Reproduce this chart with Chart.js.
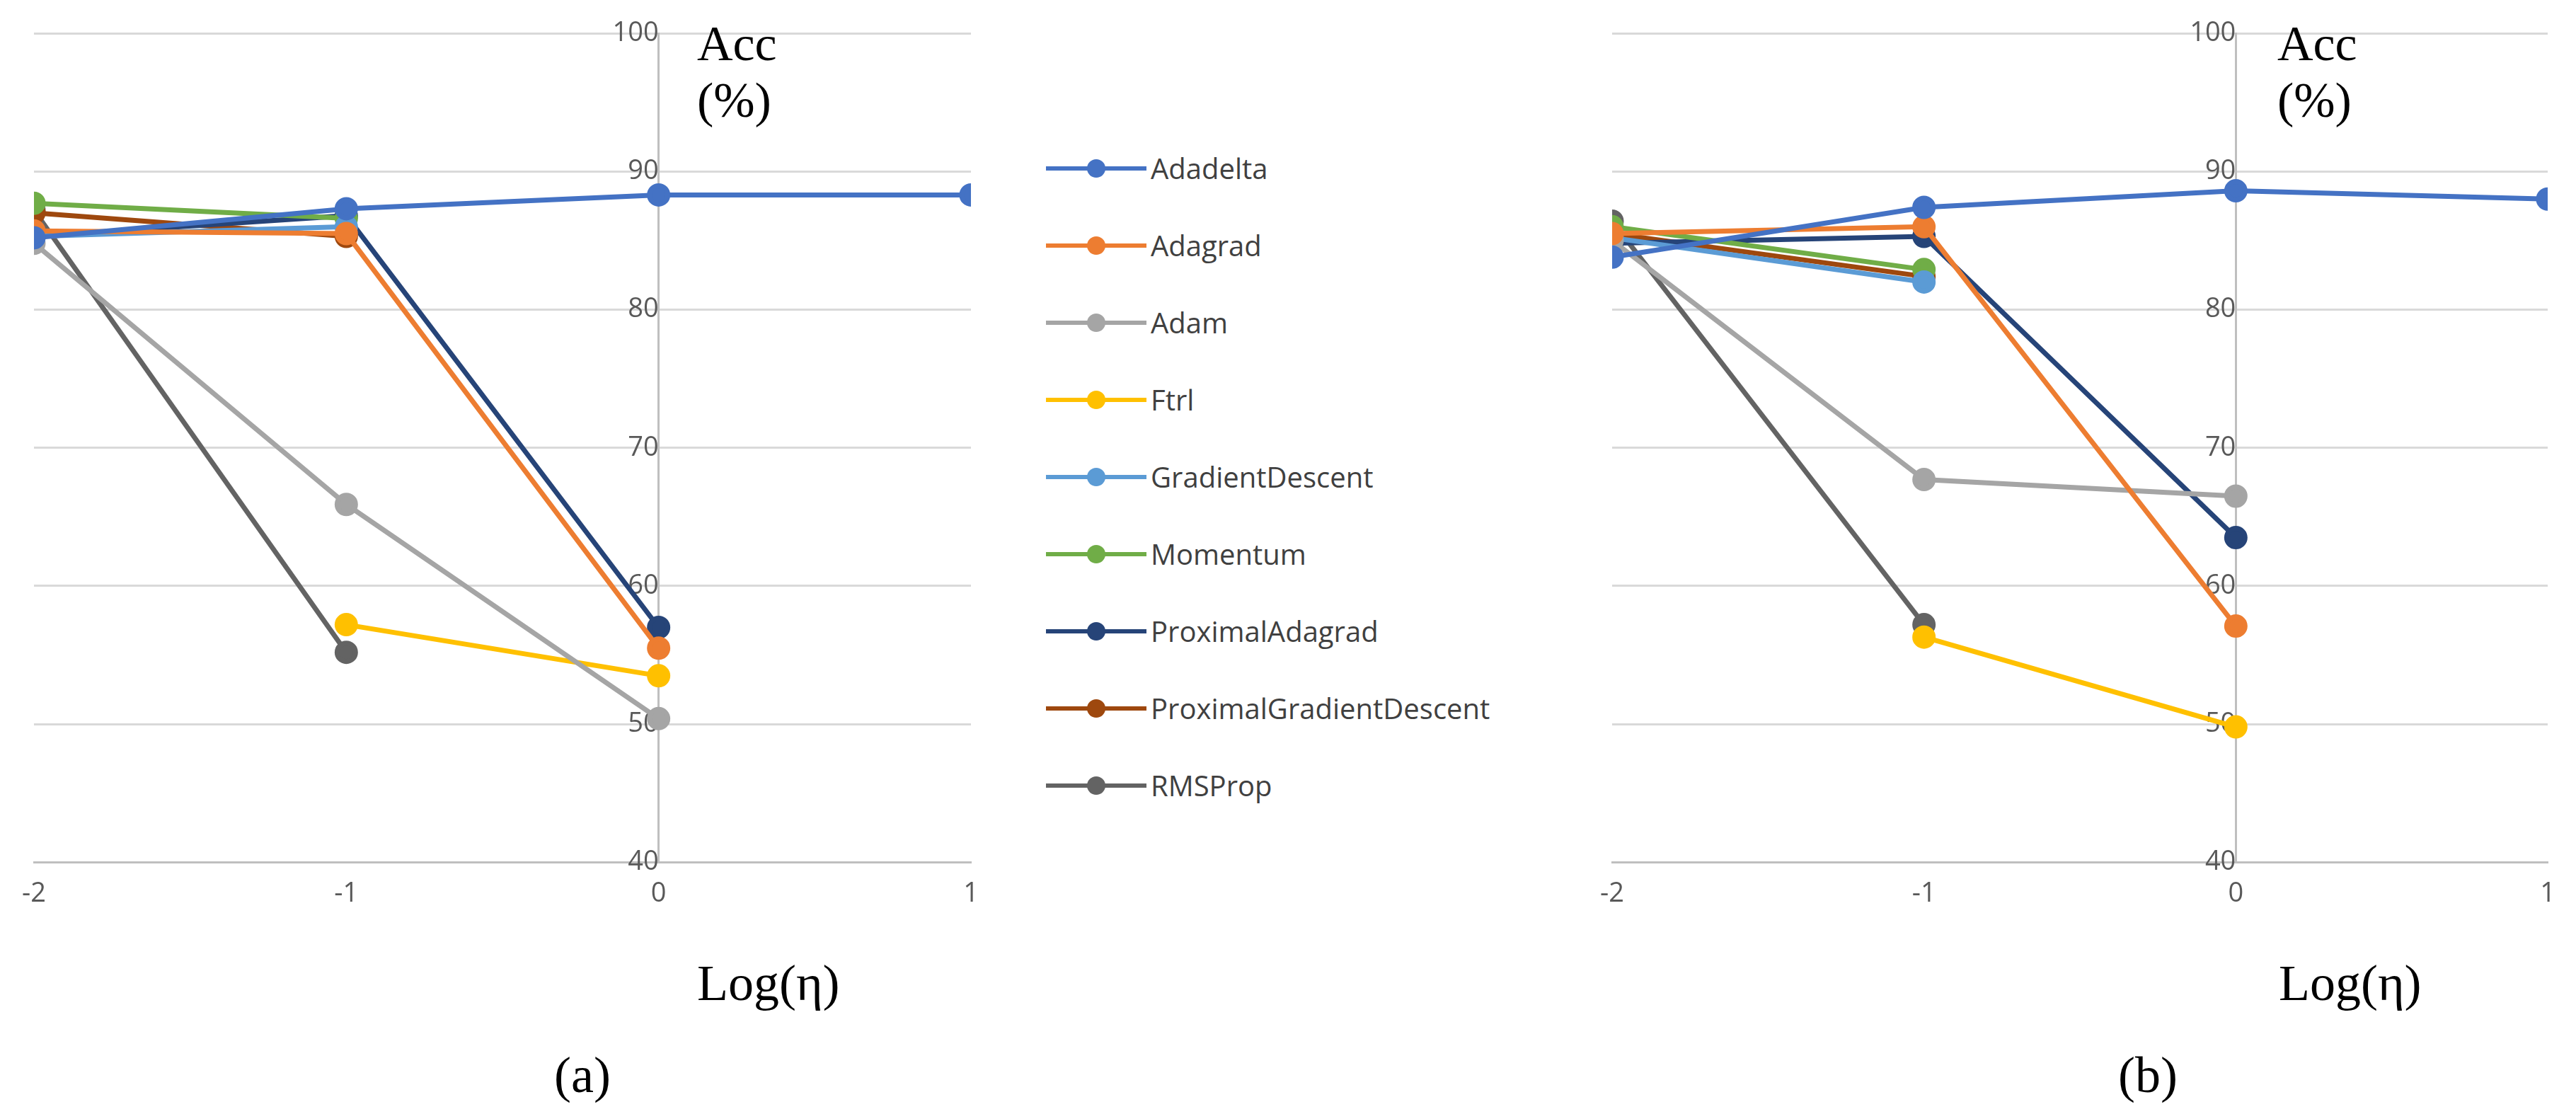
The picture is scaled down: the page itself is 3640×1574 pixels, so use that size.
<!DOCTYPE html>
<html>
<head>
<meta charset="utf-8">
<script src="https://cdn.jsdelivr.net/npm/chart.js@4/dist/chart.umd.min.js"></script>
<style>
  body { margin: 0; background: #fff; width: 3640px; height: 1574px; position: relative; overflow: hidden; }
  .box { position: absolute; }
  .serif { position: absolute; font-family: "Liberation Serif", "DejaVu Serif", serif; color: #000; }
  #legend { position: absolute; left: 1478px; top: 200px; font-family: "Open Sans", "Noto Sans", sans-serif; font-size: 40px; color: #404040; }
  .item { position: relative; height: 109px; line-height: 76px; padding-left: 148px; }
  .item .ln { position: absolute; left: 0; top: 35px; width: 142px; height: 6px; }
  .item .dt { position: absolute; left: 58px; top: 25px; width: 26px; height: 26px; border-radius: 50%; }
</style>
</head>
<body>
<div class="box" style="left:0;top:0;width:1412px;height:1330px"><canvas id="ca"></canvas></div>
<div class="box" style="left:2230px;top:0;width:1410px;height:1330px"><canvas id="cb"></canvas></div>
<div id="legend"></div>
<div class="serif" style="left:985px;top:22px;font-size:70px;line-height:80px">Acc<br>(%)</div>
<div class="serif" style="left:3218px;top:22px;font-size:70px;line-height:80px">Acc<br>(%)</div>
<div class="serif" style="left:985px;top:1348px;font-size:72px">Log(η)</div>
<div class="serif" style="left:3220px;top:1348px;font-size:72px">Log(η)</div>
<div class="serif" style="left:783px;top:1478px;font-size:72px">(a)</div>
<div class="serif" style="left:2993px;top:1478px;font-size:72px">(b)</div>
<script>
const logEta = [-2, -1, 0, 1];
const names = ['Adadelta', 'Adagrad', 'Adam', 'Ftrl', 'GradientDescent', 'Momentum', 'ProximalAdagrad', 'ProximalGradientDescent', 'RMSProp'];
const colors = ['#4472C4', '#ED7D31', '#A5A5A5', '#FFC000', '#5B9BD5', '#70AD47', '#264478', '#9E480E', '#636363'];

// (a)
const accA = [
    [85.2, 87.3, 88.3, 88.3],
    [85.7, 85.5, 55.5, null],
    [84.8, 65.9, 50.4, null],
    [null, 57.2, 53.5, null],
    [85.3, 86.0, null, null],
    [87.7, 86.6, null, null],
    [85.3, 86.8, 57.0, null],
    [87.0, 85.3, null, null],
    [87.2, 55.2, null, null]
];
// (b)
const accB = [
    [83.8, 87.4, 88.6, 88.0],
    [85.5, 86.0, 57.1, null],
    [85.0, 67.7, 66.5, null],
    [null, 56.3, 49.8, null],
    [85.2, 82.0, null, null],
    [86.0, 82.9, null, null],
    [84.8, 85.3, 63.5, null],
    [85.5, 82.4, null, null],
    [86.4, 57.2, null, null]
];
const yTicks = [40, 50, 60, 70, 80, 90, 100];

Chart.defaults.font.family = '"Open Sans", "Noto Sans", sans-serif';

const makeChart = (id, acc) => {
    const datasets = names.map((name, i) => ({
        label: name,
        data: logEta.map((x, j) => acc[i][j] === null ? null : {x: x, y: acc[i][j]}).filter(p => p),
        borderColor: colors[i],
        backgroundColor: colors[i],
        borderWidth: 7,
        pointRadius: 13,
        pointHoverRadius: 13,
        tension: 0
    }));
    return new Chart(document.getElementById(id), {
        type: 'line',
        data: {datasets},
        options: {
            responsive: true,
            maintainAspectRatio: false,
            devicePixelRatio: 1,
            animation: false,
            layout: {padding: {left: 48, right: 40, top: 47, bottom: 30}},
            plugins: {legend: {display: false}, tooltip: {enabled: false}},
            scales: {
                x: {
                    type: 'linear', min: -2, max: 1,
                    ticks: {stepSize: 1, color: '#595959', font: {size: 38}, padding: 14},
                    grid: {display: false},
                    border: {color: '#BFBFBF', width: 3}
                },
                y: {
                    min: 40, max: 100,
                    position: {x: 0},
                    afterBuildTicks: axis => { axis.ticks = yTicks.map(v => ({value: v})); },
                    ticks: {color: '#595959', font: {size: 38}, padding: 8},
                    grid: {color: '#D9D9D9', lineWidth: 3, drawTicks: false},
                    border: {color: '#BFBFBF', width: 3}
                }
            }
        }
    });
};

makeChart('ca', accA);
makeChart('cb', accB);

const legend = document.getElementById('legend');
names.forEach((name, i) => {
    const d = document.createElement('div');
    d.className = 'item';
    d.innerHTML = `<span class="ln" style="background:${colors[i]}"></span><span class="dt" style="background:${colors[i]}"></span>${name}`;
    legend.appendChild(d);
});
</script>
</body>
</html>
